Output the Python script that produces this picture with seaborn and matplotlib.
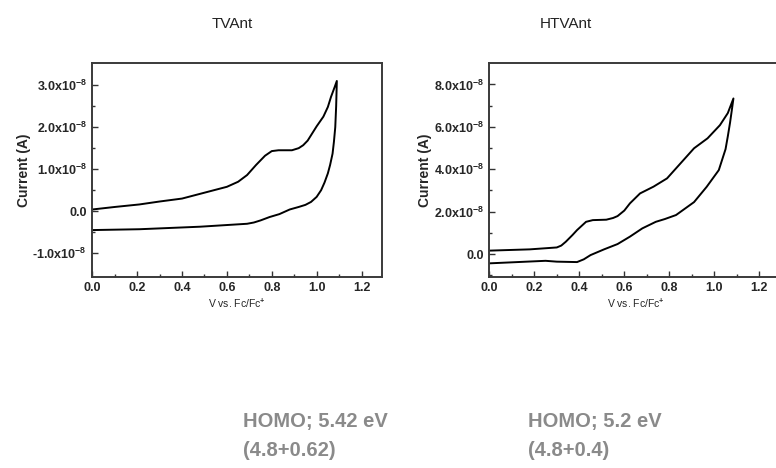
import matplotlib
matplotlib.use("Agg")
import matplotlib.pyplot as plt
import matplotlib.ticker as mticker
import pandas as pd
import seaborn as sns

# current values in units of 1e-8 A
SCALE = 1e-8

# TVAnt: forward (upper) sweep then return (lower) sweep
tv_fwd_v = [0.0, 0.10, 0.21, 0.30, 0.40, 0.50, 0.60, 0.65, 0.69, 0.73, 0.77, 0.80, 0.83, 0.89, 0.92, 0.94, 0.96, 0.98, 1.00, 1.03, 1.05, 1.064, 1.08, 1.09]
tv_fwd_i = [0.04, 0.10, 0.16, 0.23, 0.30, 0.44, 0.58, 0.70, 0.86, 1.10, 1.32, 1.43, 1.45, 1.45, 1.50, 1.57, 1.68, 1.85, 2.02, 2.25, 2.48, 2.72, 2.95, 3.10]
tv_rev_v = [1.09, 1.087, 1.083, 1.077, 1.071, 1.06, 1.05, 1.035, 1.02, 1.00, 0.975, 0.95, 0.92, 0.88, 0.834, 0.79, 0.75, 0.72, 0.69, 0.63, 0.48, 0.21, 0.0]
tv_rev_i = [3.10, 2.50, 2.00, 1.65, 1.37, 1.10, 0.90, 0.68, 0.50, 0.34, 0.22, 0.15, 0.10, 0.04, -0.07, -0.14, -0.22, -0.27, -0.30, -0.32, -0.37, -0.43, -0.45]

# HTVAnt
htv_fwd_v = [0.0, 0.18, 0.30, 0.32, 0.34, 0.37, 0.39, 0.43, 0.46, 0.52, 0.55, 0.57, 0.60, 0.625, 0.67, 0.73, 0.79, 0.85, 0.91, 0.97, 1.025, 1.06, 1.085]
htv_fwd_i = [0.16, 0.22, 0.31, 0.40, 0.58, 0.90, 1.13, 1.52, 1.60, 1.62, 1.70, 1.79, 2.05, 2.39, 2.86, 3.18, 3.57, 4.28, 4.99, 5.46, 6.08, 6.65, 7.34]
htv_rev_v = [1.085, 1.078, 1.07, 1.06, 1.05, 1.02, 0.966, 0.91, 0.83, 0.78, 0.74, 0.68, 0.625, 0.57, 0.51, 0.45, 0.42, 0.39, 0.30, 0.25, 0.0]
htv_rev_i = [7.34, 6.80, 6.20, 5.55, 4.95, 3.96, 3.17, 2.45, 1.84, 1.65, 1.52, 1.21, 0.82, 0.47, 0.22, -0.05, -0.25, -0.38, -0.36, -0.32, -0.44]

titles = ["TVAnt", "HTVAnt"]
homo_lines = [["HOMO; 5.42 eV", "(4.8+0.62)"], ["HOMO; 5.2 eV", "(4.8+0.4)"]]

sns.set_style("white")
plt.rcParams["font.family"] = ["Liberation Sans", "DejaVu Sans"]
plt.rcParams["mathtext.fontset"] = "custom"
plt.rcParams["mathtext.rm"] = "Liberation Sans:bold"
plt.rcParams["mathtext.it"] = "Liberation Sans:bold"
plt.rcParams["mathtext.bf"] = "Liberation Sans:bold"


def make_df(fv, fi, rv, ri):
    v = fv + rv
    i = [x * SCALE for x in fi + ri]
    return pd.DataFrame({"V": v, "I": i})


def sci_fmt(val, pos):
    m = val / SCALE
    if abs(m) < 1e-9:
        return "0.0"
    return "%.1fx10$^{-8}$" % m


fig = plt.figure(figsize=(7.76, 4.68), dpi=100)
ax1 = fig.add_axes([92.3 / 776, 1 - 276.7 / 468, 289.4 / 776, 213.4 / 468])
ax2 = fig.add_axes([489.3 / 776, 1 - 276.7 / 468, 292.5 / 776, 213.4 / 468])

d1 = make_df(tv_fwd_v, tv_fwd_i, tv_rev_v, tv_rev_i)
d2 = make_df(htv_fwd_v, htv_fwd_i, htv_rev_v, htv_rev_i)

sns.lineplot(data=d1, x="V", y="I", sort=False, estimator=None, color="black", lw=1.4, ax=ax1)
sns.lineplot(data=d2, x="V", y="I", sort=False, estimator=None, color="black", lw=1.4, ax=ax2)

ax1.set_xlim(0, 1.29)
ax1.set_ylim(-1.56 * SCALE, 3.52 * SCALE)
ax1.yaxis.set_major_locator(mticker.FixedLocator([-1e-8, 0, 1e-8, 2e-8, 3e-8]))
ax1.yaxis.set_minor_locator(mticker.FixedLocator([-0.5e-8, 0.5e-8, 1.5e-8, 2.5e-8]))

ax2.set_xlim(0, 1.3)
ax2.set_ylim(-1.07 * SCALE, 9.0 * SCALE)
ax2.yaxis.set_major_locator(mticker.FixedLocator([0, 2e-8, 4e-8, 6e-8, 8e-8]))
ax2.yaxis.set_minor_locator(mticker.FixedLocator([-1e-8, 1e-8, 3e-8, 5e-8, 7e-8]))

for ax, title, cx in zip([ax1, ax2], titles, [232, 566]):
    ax.xaxis.set_major_locator(mticker.MultipleLocator(0.2))
    ax.xaxis.set_minor_locator(mticker.MultipleLocator(0.1))
    ax.xaxis.set_major_formatter(mticker.FormatStrFormatter("%.1f"))
    ax.yaxis.set_major_formatter(mticker.FuncFormatter(sci_fmt))
    ax.tick_params(which="both", direction="in", left=True, bottom=True, top=False, right=False,
                   color="#333333", width=1.0)
    ax.tick_params(which="major", length=4, labelsize=9, pad=4)
    ax.tick_params(which="minor", length=2)
    for lab in ax.get_xticklabels() + ax.get_yticklabels():
        lab.set_fontweight("bold")
    for sp in ax.spines.values():
        sp.set_color("#3a3a3a")
        sp.set_linewidth(1.4)
    ax.set_ylabel("Current (A)", fontsize=10, fontweight="bold", labelpad=1)
    ax.set_xlabel("V vs. Fc/Fc$^{\\mathbf{+}}$", fontsize=7.5, labelpad=2)
    fig.text(cx / 776, 1 - 24 / 468, title, ha="center", va="center", fontsize=11, color="#222222")

for lines, x0 in zip(homo_lines, [243, 528]):
    fig.text(x0 / 776, 1 - 421 / 468, lines[0], fontsize=14.5, fontweight="bold", color="#8a8a8a", va="center")
    fig.text(x0 / 776, 1 - 451 / 468, lines[1], fontsize=14.5, fontweight="bold", color="#8a8a8a", va="center")

fig.savefig("out.png", dpi=100)
